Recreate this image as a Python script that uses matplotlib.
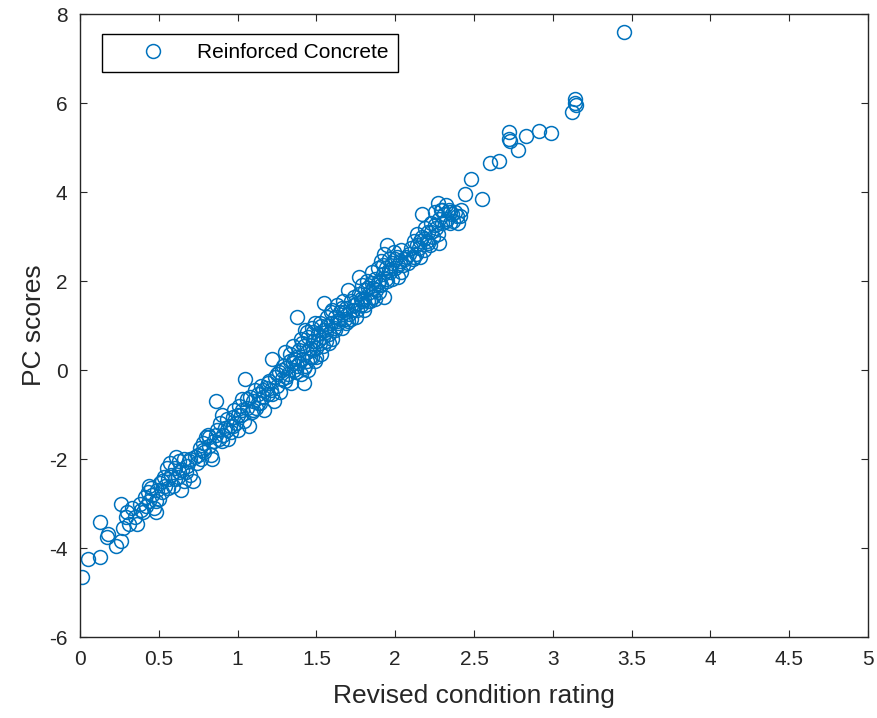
import matplotlib.pyplot as plt

plt.rcParams['font.family'] = ['Liberation Sans', 'DejaVu Sans']
plt.rcParams['axes.unicode_minus'] = False

# Revised condition rating (x) and PC scores (y)
rating = [
    0.01, 0.05, 0.13, 0.13, 0.17, 0.18, 0.23, 0.26, 0.26, 0.27, 0.29, 0.30, 0.31, 0.33, 0.35, 0.36, 0.38, 0.39,
    0.41, 0.42, 0.43, 0.44, 0.45, 0.46, 0.47, 0.48, 0.49, 0.50, 0.51, 0.52, 0.53, 0.54, 0.55, 0.56, 0.57, 0.58,
    0.59, 0.60, 0.61, 0.62, 0.63, 0.64, 0.65, 0.66, 0.67, 0.68, 0.69, 0.70,
    0.72, 0.74, 0.75, 0.76, 0.77, 0.78, 0.79, 0.80, 0.81, 0.82, 0.83, 0.84, 0.85, 0.86, 0.87, 0.88, 0.89, 0.90,
    0.91, 0.92, 0.93, 0.94, 0.95, 0.96, 0.97, 0.98, 0.99, 1.00,
    1.01, 1.02, 1.03, 1.04, 1.05, 1.06, 1.07, 1.08, 1.09, 1.10, 1.11, 1.12, 1.13, 1.14, 1.15, 1.16, 1.17, 1.18,
    1.19, 1.20, 1.21, 1.22, 1.23, 1.24, 1.25, 1.26, 1.27, 1.28, 1.29, 1.30,
    1.30, 1.31, 1.32, 1.33, 1.34, 1.35, 1.35, 1.36, 1.37, 1.38, 1.38, 1.39, 1.40, 1.40, 1.41, 1.42, 1.42, 1.43,
    1.43, 1.44, 1.45, 1.45, 1.46, 1.47, 1.47, 1.48, 1.49, 1.49, 1.50, 1.51, 1.52, 1.53, 1.53, 1.54, 1.55, 1.55,
    1.56, 1.57, 1.58, 1.59, 1.60, 1.60,
    1.61, 1.62, 1.63, 1.64, 1.65, 1.66, 1.67, 1.68, 1.69, 1.70, 1.70, 1.71, 1.72, 1.73, 1.74, 1.75, 1.76, 1.77,
    1.77, 1.78, 1.79, 1.80, 1.80, 1.81, 1.82, 1.83, 1.84, 1.85, 1.85, 1.86, 1.87, 1.88, 1.89, 1.90, 1.90,
    1.91, 1.92, 1.93, 1.93, 1.94, 1.95, 1.95, 1.96, 1.97, 1.98, 1.99, 2.00, 2.01, 2.02, 2.03, 2.04, 2.05, 2.07,
    2.08, 2.10, 2.11, 2.12, 2.13, 2.14, 2.15, 2.16, 2.17, 2.17, 2.18, 2.19, 2.20,
    2.21, 2.22, 2.23, 2.24, 2.25, 2.26, 2.27, 2.28, 2.28, 2.29, 2.30, 2.31, 2.32, 2.33, 2.34, 2.35, 2.36, 2.38,
    2.40, 2.41, 2.42, 2.44,
    2.48, 2.55, 2.60, 2.66, 2.72, 2.72, 2.73, 2.78, 2.83, 2.91, 2.99, 3.12, 3.14, 3.14, 3.15, 3.45,
    # second pass through the dense band
    0.40, 0.44, 0.48, 0.52, 0.56, 0.60, 0.63, 0.66, 0.70, 0.73, 0.78, 0.82, 0.86, 0.90, 0.93, 0.97, 1.00, 1.03,
    1.06, 1.10, 1.13, 1.16, 1.19, 1.22, 1.25, 1.28, 1.31, 1.33, 1.36, 1.37, 1.39, 1.41, 1.42, 1.44, 1.44, 1.46,
    1.48, 1.48, 1.50, 1.51, 1.52, 1.54, 1.56, 1.57, 1.58, 1.59, 1.62, 1.63, 1.65, 1.66, 1.68, 1.69, 1.72, 1.74,
    1.76, 1.78, 1.79, 1.81, 1.83, 1.84, 1.86, 1.87, 1.89, 1.91, 1.92, 1.94, 1.96, 1.98, 2.00, 2.02, 2.04, 2.06,
    2.09, 2.12, 2.14, 2.16, 2.18, 2.21, 2.23, 2.25, 2.27, 2.30, 2.32, 2.35, 2.37, 2.39,
]
pc_scores = [
    -4.65, -4.25, -4.20, -3.42, -3.75, -3.68, -3.95, -3.85, -3.00, -3.55, -3.30, -3.20, -3.45, -3.10, -3.30, -3.45, -3.00, -3.15,
    -2.85, -3.05, -2.75, -2.95, -2.65, -2.80, -3.10, -3.20, -2.70, -2.90, -2.55, -2.75, -2.40, -2.60, -2.20, -2.45, -2.10, -2.35,
    -2.60, -2.20, -1.95, -2.40, -2.05, -2.70, -2.25, -2.00, -2.30, -2.15, -2.05, -2.35,
    -2.50, -2.10, -1.90, -1.75, -2.00, -1.65, -1.85, -1.50, -1.45, -1.70, -1.90, -2.00, -1.60, -0.70, -1.35, -1.55, -1.20, -1.00,
    -1.45, -1.30, -1.10, -1.55, -1.25, -1.40, -1.05, -0.90, -1.20, -1.35,
    -0.80, -1.00, -0.65, -1.15, -0.20, -0.85, -1.25, -0.60, -0.95, -0.70, -0.45, -0.85, -0.55, -0.75, -0.35, -0.60, -0.90, -0.40,
    -0.55, -0.25, -0.45, 0.25, -0.70, -0.15, -0.35, -0.05, -0.50, -0.20, 0.10, -0.25,
    0.40, 0.05, -0.10, 0.20, -0.30, 0.15, 0.55, 0.00, 0.30, 1.20, 0.10, 0.45, -0.10, 0.70, 0.25, -0.30, 0.55, 0.90,
    0.10, 0.40, 0.75, 0.00, 0.50, 0.95, 0.30, 0.65, 0.20, 1.05, 0.50, 0.80, 0.60, 1.00, 0.35, 0.75, 1.50, 0.90,
    0.65, 1.20, 0.80, 1.05, 0.70, 1.35,
    0.95, 1.20, 1.45, 1.05, 1.30, 0.95, 1.55, 1.15, 1.40, 1.80, 1.10, 1.25, 1.55, 1.35, 1.65, 1.20, 1.50, 2.10,
    1.70, 1.45, 1.90, 1.60, 1.35, 1.80, 2.00, 1.55, 1.75, 2.20, 1.95, 1.65, 2.05, 1.80, 2.30, 2.00, 1.75,
    2.45, 2.15, 1.65, 2.60, 2.30, 2.80, 2.00, 2.50, 2.20, 2.40, 2.65, 2.30, 2.55, 2.10, 2.45, 2.70, 2.35, 2.55,
    2.40, 2.75, 2.50, 2.90, 2.60, 3.05, 2.75, 2.55, 3.50, 3.00, 2.70, 3.20, 2.90,
    3.10, 2.80, 3.30, 3.00, 3.55, 3.20, 3.75, 2.85, 3.40, 3.60, 3.30, 3.50, 3.70, 3.40, 3.60, 3.30, 3.50, 3.55,
    3.30, 3.45, 3.60, 3.95,
    4.30, 3.85, 4.65, 4.70, 5.35, 5.20, 5.15, 4.95, 5.25, 5.38, 5.33, 5.80, 6.10, 6.00, 5.95, 7.60,
    # second pass through the dense band
    -3.20, -2.60, -2.95, -2.50, -2.65, -2.45, -2.30, -2.50, -2.00, -1.95, -1.80, -1.50, -1.45, -1.60, -1.35, -1.25, -1.00, -0.90,
    -0.65, -0.90, -0.75, -0.45, -0.30, -0.55, -0.10, 0.00, -0.15, 0.35, 0.25, -0.05, 0.15, 0.60, 0.05, 0.20, 0.85, 0.30,
    0.45, 0.85, 0.30, 0.65, 1.05, 0.55, 0.85, 1.00, 0.60, 1.30, 0.90, 1.10, 1.15, 1.40, 1.30, 1.05, 1.15, 1.45,
    1.35, 1.60, 1.55, 1.45, 1.85, 1.55, 1.85, 1.60, 1.95, 1.90, 2.35, 2.05, 2.25, 2.05, 2.50, 2.35, 2.20, 2.50,
    2.60, 2.55, 2.80, 2.90, 2.95, 2.85, 3.10, 3.25, 3.05, 3.60, 3.35, 3.55, 3.35, 3.45,
]

x_ticks = [0, 0.5, 1, 1.5, 2, 2.5, 3, 3.5, 4, 4.5, 5]
y_ticks = [-6, -4, -2, 0, 2, 4, 6, 8]

fig = plt.figure(figsize=(8.77, 7.18), dpi=100)
ax = fig.add_axes([0.0912, 0.1128, 0.8985, 0.8677])

ax.plot(rating, pc_scores, 'o', markerfacecolor='none', markeredgecolor='#0072BD',
        markersize=10, markeredgewidth=1.1, label='Reinforced Concrete')

ax.set_xlim(0, 5)
ax.set_ylim(-6, 8)
ax.set_xticks(x_ticks, labels=[f"{t:g}" for t in x_ticks])
ax.set_yticks(y_ticks)
ax.tick_params(direction='in', top=True, right=True, length=5, width=0.8,
               labelsize=15, colors='#262626', pad=9)
for s in ax.spines.values():
    s.set_linewidth(1.0)
    s.set_color('#262626')

ax.set_xlabel('Revised condition rating', fontsize=19, color='#262626', labelpad=11)
ax.set_ylabel('PC scores', fontsize=19, color='#262626', labelpad=2)

leg = ax.legend(loc='upper left', bbox_to_anchor=(0.028, 0.968), fontsize=15,
                frameon=True, fancybox=False, edgecolor='black', framealpha=1,
                handlelength=4.0, handletextpad=0.1, borderpad=0.45, borderaxespad=0)
leg.get_frame().set_linewidth(1.0)

fig.savefig('out.png', dpi=100)
